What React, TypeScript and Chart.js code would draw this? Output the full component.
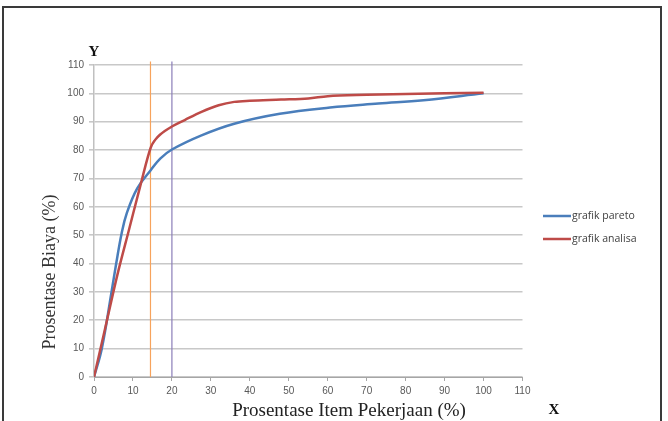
import { useEffect, useRef } from "react";
import { Chart, registerables } from "chart.js";

Chart.register(...registerables);

// Kurva kumulatif: prosentase item pekerjaan (X) terhadap prosentase biaya (Y)
const paretoX = [0, 2, 4.5, 5.7, 7.1, 8.4, 11.1, 14.6, 17, 20, 27.6, 36, 47.7, 60.6, 73, 84.6, 100];
const paretoY = [0, 10, 30, 40, 50.7, 57.7, 66.5, 73, 77, 80.2, 85.2, 89.3, 92.8, 95.0, 96.4, 97.6, 100];

const analisaX = [0, 3, 6, 9, 12, 14.6, 15.7, 17, 20, 23.3, 27.6, 32, 36, 40, 48, 55, 60, 70, 80, 90, 100];
const analisaY = [0, 18, 36, 52, 68, 81, 83.6, 85.5, 88.3, 90.6, 93.5, 95.8, 97, 97.4, 97.8, 98.2, 99, 99.5, 99.8, 100, 100.2];

// Garis batas vertikal
const batasX = [14.5, 20];
const batasWarna = ["#F7A35C", "#8A7DB8"];
const batasAtas = 111.2;

const sumbuTicks = [0, 10, 20, 30, 40, 50, 60, 70, 80, 90, 100, 110];

const labelPareto = "grafik pareto";
const labelAnalisa = "grafik analisa";
const judulX = "Prosentase Item Pekerjaan (%)";
const judulY = "Prosentase Biaya (%)";

const toPoints = (xs: number[], ys: number[]) => xs.map((x, i) => ({ x, y: ys[i] }));

const teksPlugin = {
  id: "teksGrafik",
  afterDraw(chart: any) {
    const ctx = chart.ctx as CanvasRenderingContext2D;
    ctx.save();
    ctx.fillStyle = "#111";
    ctx.textAlign = "center";
    ctx.textBaseline = "middle";
    ctx.font = 'bold 15px "Liberation Serif"';
    ctx.fillText("Y", 94, 52);
    ctx.fillText("X", 554, 410);

    ctx.fillStyle = "#222";
    ctx.font = '19px "Liberation Serif"';
    ctx.fillText(judulX, 349, 411);

    ctx.save();
    ctx.translate(50, 272);
    ctx.rotate(-Math.PI / 2);
    ctx.fillStyle = "#333";
    ctx.font = '18px "Liberation Serif"';
    ctx.fillText(judulY, 0, 0);
    ctx.restore();

    // Legenda di sisi kanan
    const items = chart.data.datasets.filter((d: any) => d.legenda);
    items.forEach((d: any, i: number) => {
      const y = 216 + i * 23;
      ctx.strokeStyle = d.borderColor;
      ctx.lineWidth = 2.5;
      ctx.beginPath();
      ctx.moveTo(543, y);
      ctx.lineTo(571, y);
      ctx.stroke();
      ctx.fillStyle = "#404040";
      ctx.font = '10.5px "Open Sans"';
      ctx.textAlign = "left";
      ctx.fillText(d.label, 572, y);
    });
    ctx.restore();
  },
};

export default function App() {
  const canvasRef = useRef<HTMLCanvasElement | null>(null);

  useEffect(() => {
    if (!canvasRef.current) return;
    const batasSets = batasX.map((x, i) => ({
      label: "batas " + x,
      data: [
        { x, y: 0 },
        { x, y: batasAtas },
      ],
      borderColor: batasWarna[i],
      borderWidth: 1.2,
      pointRadius: 0,
      clip: false as any,
      order: 2,
      legenda: false,
    }));

    const chart = new Chart(canvasRef.current, {
      type: "line",
      data: {
        datasets: [
          {
            label: labelPareto,
            data: toPoints(paretoX, paretoY),
            borderColor: "#4A7EBB",
            borderWidth: 2.5,
            pointRadius: 0,
            tension: 0.4,
            order: 1,
            legenda: true,
          } as any,
          {
            label: labelAnalisa,
            data: toPoints(analisaX, analisaY),
            borderColor: "#BE4B48",
            borderWidth: 2.5,
            pointRadius: 0,
            cubicInterpolationMode: "monotone",
            order: 0,
            legenda: true,
          } as any,
          ...(batasSets as any[]),
        ],
      },
      options: {
        animation: false,
        responsive: false,
        maintainAspectRatio: false,
        events: [],
        layout: { padding: { left: 0, top: 65, right: 145.5, bottom: 0 } },
        plugins: {
          legend: { display: false },
          tooltip: { enabled: false },
          title: { display: false },
        },
        scales: {
          x: {
            type: "linear",
            min: 0,
            max: 110,
            afterBuildTicks: (scale: any) => {
              scale.ticks = sumbuTicks.map((v) => ({ value: v }));
            },
            afterFit: (scale: any) => {
              scale.height = 44;
            },
            grid: {
              drawOnChartArea: false,
              color: "#A6A6A6",
              tickLength: 4,
            },
            border: { color: "#A6A6A6", width: 1 },
            ticks: {
              padding: 4,
              color: "#595959",
              font: { family: '"Liberation Sans"', size: 10 },
              maxRotation: 0,
            },
          },
          y: {
            type: "linear",
            min: 0,
            max: 110,
            afterBuildTicks: (scale: any) => {
              scale.ticks = sumbuTicks.map((v) => ({ value: v }));
            },
            afterFit: (scale: any) => {
              scale.width = 94;
            },
            grid: {
              color: "#C8C8C8",
              lineWidth: 1.6,
              tickLength: 5,
            },
            border: { color: "#C0C0C0", width: 1.5 },
            ticks: {
              padding: 5,
              color: "#595959",
              font: { family: '"Liberation Sans"', size: 10 },
            },
          },
        },
      },
      plugins: [teksPlugin],
    });
    return () => chart.destroy();
  }, []);

  return (
    <div
      style={{
        position: "fixed",
        left: 0,
        top: 0,
        width: 668,
        height: 421,
        overflow: "hidden",
        background: "#fff",
      }}
    >
      <canvas ref={canvasRef} width={668} height={421} style={{ position: "absolute", left: 0, top: 0 }} />
      <div
        style={{
          position: "absolute",
          left: 2,
          top: 6,
          width: 656,
          height: 440,
          border: "2px solid #3A3A3A",
          boxSizing: "content-box",
          pointerEvents: "none",
        }}
      />
    </div>
  );
}
